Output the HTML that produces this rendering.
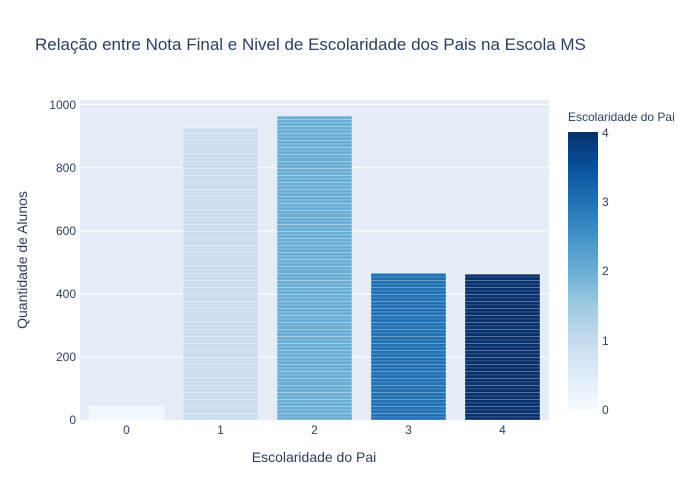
<!DOCTYPE html>
<html><head><meta charset="utf-8"><style>body{margin:0;background:#fff}svg{display:block}text{font-family:"Liberation Sans",sans-serif;fill:#2a3f5f}</style></head><body>
<svg width="700" height="500" xmlns="http://www.w3.org/2000/svg">
<defs>
<pattern id="st" width="10" height="7" patternUnits="userSpaceOnUse"><rect y="0" width="10" height="1" fill="#fff" opacity="0.55"/><rect y="3.5" width="10" height="0.8" fill="#fff" opacity="0.4"/></pattern>
<linearGradient id="cb" x1="0" y1="1" x2="0" y2="0">
<stop offset="0" stop-color="#f7fbff"/><stop offset="0.125" stop-color="#deebf7"/><stop offset="0.25" stop-color="#c6dbef"/><stop offset="0.375" stop-color="#9ecae1"/><stop offset="0.5" stop-color="#6baed6"/><stop offset="0.625" stop-color="#4292c6"/><stop offset="0.75" stop-color="#2171b5"/><stop offset="0.875" stop-color="#08519c"/><stop offset="1" stop-color="#08306b"/></linearGradient>
</defs>
<rect x="80" y="100" width="469" height="320" fill="#e5ecf6"/>
<g stroke="#fff" stroke-width="1">
<line x1="80" x2="549" y1="356.9" y2="356.9"/><line x1="80" x2="549" y1="293.8" y2="293.8"/><line x1="80" x2="549" y1="230.7" y2="230.7"/><line x1="80" x2="549" y1="167.6" y2="167.6"/><line x1="80" x2="549" y1="104.5" y2="104.5"/>
</g>
<g stroke="#fff" stroke-opacity="0.5" stroke-width="0.6">
<rect x="89" y="405.8" width="75" height="14.2" fill="#f2f7fd"/>
<rect x="183" y="128" width="75" height="292" fill="#c9dcf0"/>
<rect x="277" y="116" width="75" height="304" fill="#6aaed7"/>
<rect x="371" y="273" width="75" height="147" fill="#2271b5"/>
<rect x="465" y="274.2" width="75" height="145.8" fill="#08306b"/>
</g>
<rect x="183" y="128" width="75" height="292" fill="url(#st)" opacity="0.6"/>
<rect x="277" y="116" width="75" height="304" fill="url(#st)" opacity="0.7"/>
<rect x="371" y="273" width="75" height="147" fill="url(#st)" opacity="0.6"/>
<rect x="465" y="274.2" width="75" height="145.8" fill="url(#st)" opacity="0.6"/>
<g font-size="12" text-anchor="end">
<text x="76" y="424">0</text><text x="76" y="361">200</text><text x="76" y="298">400</text><text x="76" y="235">600</text><text x="76" y="172">800</text><text x="76" y="109">1000</text>
</g>
<g font-size="12" text-anchor="middle">
<text x="126.5" y="434">0</text><text x="220.5" y="434">1</text><text x="314.5" y="434">2</text><text x="408.5" y="434">3</text><text x="502.5" y="434">4</text>
</g>
<text x="314" y="462" font-size="14" text-anchor="middle">Escolaridade do Pai</text>
<text transform="translate(27,260) rotate(-90)" font-size="14" text-anchor="middle">Quantidade de Alunos</text>
<text x="35" y="50" font-size="17">Relação entre Nota Final e Nivel de Escolaridade dos Pais na Escola MS</text>
<text x="568" y="121" font-size="12">Escolaridade do Pai</text>
<rect x="568" y="132" width="30" height="278" fill="url(#cb)"/>
<g font-size="12">
<text x="602" y="414">0</text><text x="602" y="345">1</text><text x="602" y="275">2</text><text x="602" y="206">3</text><text x="602" y="137">4</text>
</g>
</svg>
</body></html>
